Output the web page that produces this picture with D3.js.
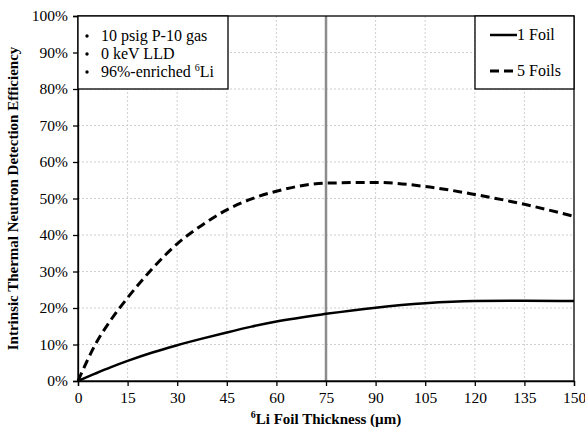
<!DOCTYPE html>
<html>
<head>
<meta charset="utf-8">
<script src="https://cdn.jsdelivr.net/npm/d3@7"></script>
<style>
  body { margin: 0; background: #fff; }
  text { font-family: "Liberation Serif", "Times New Roman", serif; fill: #000; }
</style>
</head>
<body>
<div id="chart"></div>
<script>
// thickness values (um)
var thickness = [0, 2.5, 5, 10, 15, 22.5, 30, 37.5, 45, 52.5, 60, 75, 90, 105, 120, 135, 150];
// efficiency (%)
var oneFoil = [0, 1.0, 1.95, 3.8, 5.5, 7.8, 9.8, 11.6, 13.3, 14.9, 16.3, 18.4, 20.1, 21.3, 21.9, 22.0, 21.9];
var fiveFoils = [0, 5.0, 9.6, 16.8, 22.8, 30.8, 37.6, 42.7, 46.9, 49.9, 52.0, 54.2, 54.4, 53.3, 51.1, 48.4, 45.1];
var xTicks = [0, 15, 30, 45, 60, 75, 90, 105, 120, 135, 150];
var yTicks = [0, 10, 20, 30, 40, 50, 60, 70, 80, 90, 100];
var notes = ["10 psig P-10 gas", "0 keV LLD", "96%-enriched "];
var markerX = 75;

var margin = {top: 16, right: 11, bottom: 48, left: 78},
    width = 585 - margin.left - margin.right,
    height = 429 - margin.top - margin.bottom;

var svg = d3.select("#chart")
  .append("svg")
  .attr("width", 585)
  .attr("height", 429)
  .append("g")
  .attr("transform", "translate(" + margin.left + "," + margin.top + ")");

var x = d3.scaleLinear().domain([0, 150]).range([0, width]);
var y = d3.scaleLinear().domain([0, 100]).range([height, 0]);

// gridlines
svg.append("g")
  .selectAll("line.vg")
  .data(xTicks.slice(1, -1))
  .enter().append("line")
  .attr("x1", function(d) { return x(d); })
  .attr("x2", function(d) { return x(d); })
  .attr("y1", 0).attr("y2", height)
  .style("stroke", "#cfcfcf")
  .style("stroke-width", 1)
  .style("stroke-dasharray", "2,2");

svg.append("g")
  .selectAll("line.hg")
  .data(yTicks.slice(1, -1))
  .enter().append("line")
  .attr("x1", 0).attr("x2", width)
  .attr("y1", function(d) { return y(d); })
  .attr("y2", function(d) { return y(d); })
  .style("stroke", "#cfcfcf")
  .style("stroke-width", 1)
  .style("stroke-dasharray", "2,2");

// marker at 75 um
svg.append("line")
  .attr("x1", x(markerX)).attr("x2", x(markerX))
  .attr("y1", 0).attr("y2", height)
  .style("stroke", "#8c8c8c")
  .style("stroke-width", 2.5);

// frame
svg.append("rect")
  .attr("x", 0).attr("y", 0)
  .attr("width", width).attr("height", height)
  .style("fill", "none")
  .style("stroke", "#000")
  .style("stroke-width", 1.3);

// axes
var xAxis = svg.append("g")
  .attr("transform", "translate(0," + height + ")")
  .call(d3.axisBottom(x).tickValues(xTicks).tickSize(5).tickPadding(6));
var yAxis = svg.append("g")
  .call(d3.axisLeft(y).tickValues(yTicks).tickSize(5).tickPadding(5)
    .tickFormat(function(d) { return d + "%"; }));
[xAxis, yAxis].forEach(function(a) {
  a.select(".domain").style("stroke", "#000").style("stroke-width", 1.3);
  a.selectAll(".tick line").style("stroke", "#000").style("stroke-width", 1.3);
  a.selectAll("text")
    .style("font-family", "'Liberation Serif', serif")
    .style("font-size", "15.5px")
    .style("fill", "#000");
});

// curves
var line = d3.line()
  .x(function(d) { return x(d[0]); })
  .y(function(d) { return y(d[1]); })
  .curve(d3.curveMonotoneX);

svg.append("path")
  .datum(d3.zip(thickness, oneFoil))
  .attr("d", line)
  .style("fill", "none")
  .style("stroke", "#000")
  .style("stroke-width", 2.5);

svg.append("path")
  .datum(d3.zip(thickness, fiveFoils))
  .attr("d", line)
  .style("fill", "none")
  .style("stroke", "#000")
  .style("stroke-width", 3)
  .style("stroke-dasharray", "9,5");

// notes box (top left)
svg.append("rect")
  .attr("x", 0).attr("y", 0)
  .attr("width", 150).attr("height", 73)
  .style("fill", "#fff")
  .style("stroke", "#000")
  .style("stroke-width", 1.3);

var note = svg.selectAll(".note")
  .data(notes)
  .enter().append("g")
  .attr("transform", function(d, i) { return "translate(0," + (25 + i * 18) + ")"; });
note.append("circle")
  .attr("cx", 9).attr("cy", -5)
  .attr("r", 1.7)
  .style("fill", "#000");
var noteText = note.append("text")
  .attr("x", 23)
  .style("font-size", "16px")
  .text(function(d) { return d; });
noteText.filter(function(d, i) { return i == 2; })
  .append("tspan").attr("dy", -6).style("font-size", "10px").text("6");
noteText.filter(function(d, i) { return i == 2; })
  .append("tspan").attr("dy", 6).style("font-size", "16px").text("Li");

// series legend (top right)
var legX = x(150) - 99;
svg.append("rect")
  .attr("x", legX).attr("y", 0)
  .attr("width", 99).attr("height", 73)
  .style("fill", "#fff")
  .style("stroke", "#000")
  .style("stroke-width", 1.3);

var legend = svg.selectAll(".legend")
  .data([{name: "1 Foil", dash: null, w: 2.5}, {name: "5 Foils", dash: "9,5", w: 3}])
  .enter().append("g")
  .attr("transform", function(d, i) { return "translate(" + legX + "," + (19 + i * 36) + ")"; });
legend.append("line")
  .attr("x1", 15).attr("x2", 42)
  .attr("y1", 0).attr("y2", 0)
  .style("stroke", "#000")
  .style("stroke-width", function(d) { return d.w; })
  .style("stroke-dasharray", function(d) { return d.dash; });
legend.append("text")
  .attr("x", 42)
  .attr("y", 5)
  .style("font-size", "16px")
  .text(function(d) { return d.name; });

// axis titles
var xt = svg.append("text")
  .attr("x", width / 2)
  .attr("y", height + 43)
  .attr("text-anchor", "middle")
  .style("font-size", "15px")
  .style("font-weight", "bold");
xt.append("tspan").attr("dy", -6).style("font-size", "10px").text("6");
xt.append("tspan").attr("dy", 6).text("Li Foil Thickness  (\u00b5m)");

svg.append("text")
  .attr("transform", "rotate(-90)")
  .attr("x", -height / 2)
  .attr("y", -60)
  .attr("text-anchor", "middle")
  .style("font-size", "15px")
  .style("font-weight", "bold")
  .text("Intrinsic Thermal Neutron Detection Efficiency");
</script>
</body>
</html>
